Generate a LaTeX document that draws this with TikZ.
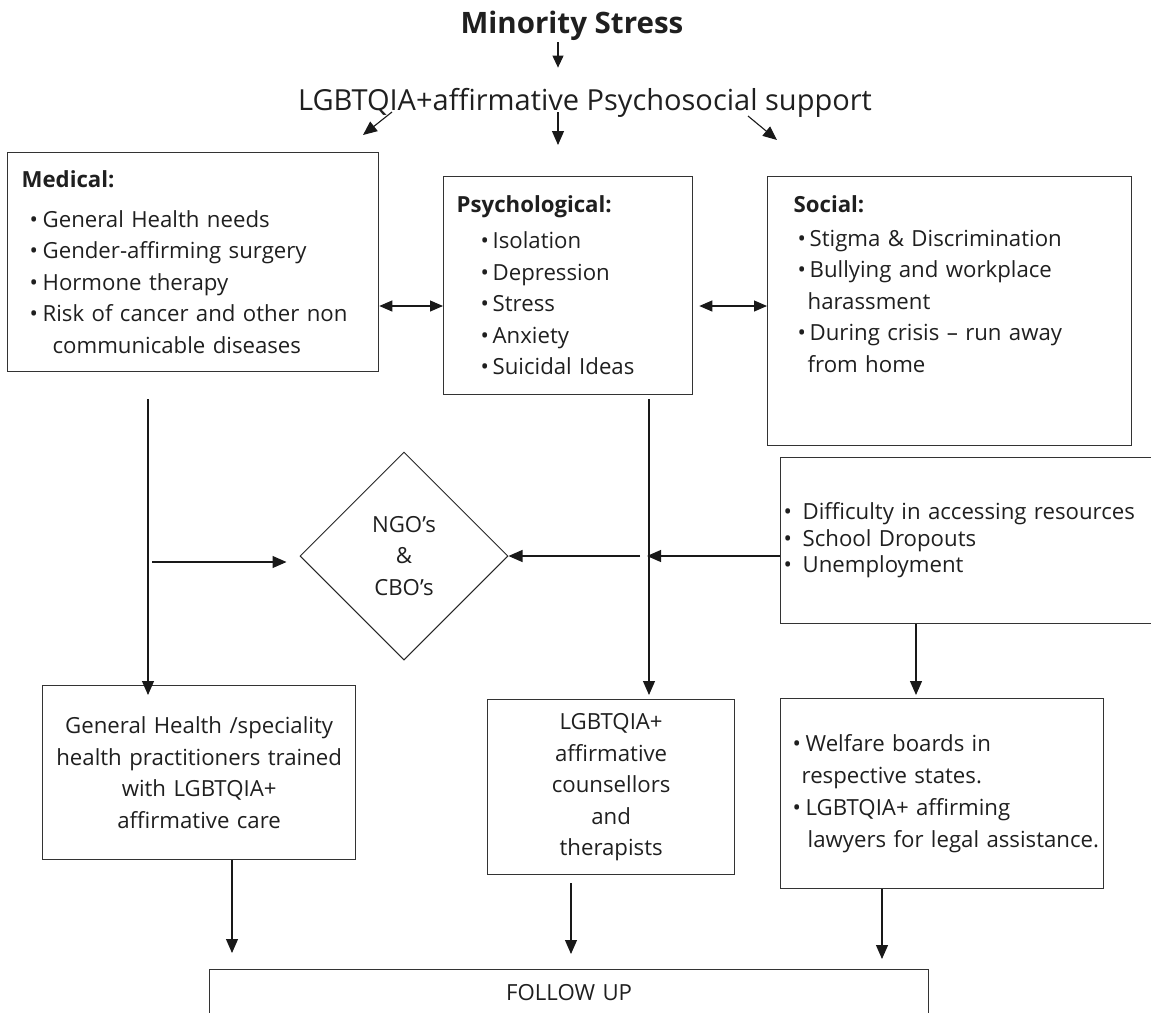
\documentclass[tikz,border=0pt]{standalone}
\usepackage{fontspec}
\setmainfont{Open Sans}
\usetikzlibrary{arrows.meta,positioning,shapes.geometric}

\newcommand{\bul}[1][13pt]{\makebox[#1][l]{•}}

\tikzset{
  box/.style={draw=black!80, line width=1.3pt, anchor=north west, inner ysep=0pt, inner xsep=3pt,
    align=left, font=\fontsize{22.2}{31.5}\selectfont},
  cbox/.style={box, inner xsep=8pt, align=center},
  arr/.style={-{Triangle[length=14pt,width=12pt]}, line width=1.1pt, draw=black!90},
  dbl/.style={{Triangle[length=13pt,width=11pt]}-{Triangle[length=13pt,width=11pt]}, line width=1.1pt, draw=black!90},
}

\begin{document}
\begin{tikzpicture}[x=1pt, y=-1pt, every node/.append style={text=black!88}]
	\useasboundingbox (0,0) rectangle (1151,1012);
	\clip (0,0) rectangle (1151,1012);

	% headings
	\node (title) [anchor=base, inner sep=0pt, font=\bfseries\fontsize{29.5}{33}\selectfont] at (572,33) {Minority Stress};
	\node (sub) [anchor=base, inner sep=0pt, font=\fontsize{29}{34}\selectfont] at (585,110) {LGBTQIA+affirmative Psychosocial support};

	% first row
	\node (med) [box, text width=365pt, minimum height=219pt] at (7,152)
		{\hspace*{11pt}\textbf{Medical:}\\[8.5pt]
		 \hspace*{19pt}\bul General Health needs\\
		 \hspace*{19pt}\bul Gender-affirming surgery\\
		 \hspace*{19pt}\bul Hormone therapy\\
		 \hspace*{19pt}\bul Risk of cancer and other non\\
		 \hspace*{42pt}communicable diseases};
	\node (psy) [box, text width=243pt, minimum height=218pt] at (443,176)
		{\hspace*{10pt}\textbf{Psychological:}\\[4.5pt]
		 \hspace*{34pt}\bul[12pt]Isolation\\
		 \hspace*{34pt}\bul[12pt]Depression\\
		 \hspace*{34pt}\bul[12pt]Stress\\
		 \hspace*{34pt}\bul[12pt]Anxiety\\
		 \hspace*{34pt}\bul[12pt]Suicidal Ideas};
	\node (soc) [box, text width=358pt, minimum height=269pt] at (767,176)
		{\hspace*{23pt}\textbf{Social:}\\[2.5pt]
		 \hspace*{27pt}\bul[12pt]Stigma \& Discrimination\\
		 \hspace*{27pt}\bul[12pt]Bullying and workplace\\
		 \hspace*{37pt}harassment\\
		 \hspace*{27pt}\bul[12pt]During crisis – run away\\
		 \hspace*{37pt}from home\\
		 \rule{0pt}{53pt}};

	% middle row
	\node (ngo) [diamond, draw=black!85, line width=1pt, minimum size=208pt, inner sep=0pt, align=center,
		font=\fontsize{22.2}{31.5}\selectfont] at (404,556) {NGO’s\\\&\\CBO’s};
	\node (diff) [box, text width=394pt, minimum height=166pt, font=\fontsize{22.2}{26.5}\selectfont] at (780,457)
		{\bul[19pt]Difficulty in accessing resources\\
		 \bul[19pt]School Dropouts\\
		 \bul[19pt]Unemployment};

	% lower row
	\node (gen) [cbox, text width=297pt, minimum height=174pt] at (42,685)
		{General Health /speciality\\health practitioners trained\\with LGBTQIA+\\affirmative care};
	\node (cou) [cbox, text width=231pt, minimum height=175pt] at (487,699)
		{LGBTQIA+\\affirmative\\counsellors\\and\\therapists};
	\node (wel) [box, text width=317pt, minimum height=190pt, font=\fontsize{22.2}{32}\selectfont] at (780,698)
		{\hspace*{9pt}\bul Welfare boards in\\
		 \hspace*{18pt}respective states.\\
		 \hspace*{9pt}\bul LGBTQIA+ affirming\\
		 \hspace*{24pt}lawyers for legal assistance.};
	\node (fu) [cbox, inner xsep=0pt, text width=719pt, text height=30.5pt, text depth=60pt] at (209,969) {FOLLOW UP};

	% free ends
	\coordinate (s1) at (392,112);
	\coordinate (e1) at (363,135);
	\coordinate (s2) at (558,112);
	\coordinate (e2) at (558,145);
	\coordinate (s3) at (748,116);
	\coordinate (e3) at (777,140);
	\coordinate (medline) at (148,399);
	\coordinate (psyline) at (649,399);
	\coordinate (hl) at (152,562);

	\draw[arr, -{Triangle[length=12pt,width=11pt]}, shorten <=2pt, shorten >=20pt] ([xshift=-14pt]title.south) -- ([xshift=-14pt]title.south |- sub.north);
	\draw[arr] (s1) -- (e1);
	\draw[arr] (s2) -- (e2);
	\draw[arr] (s3) -- (e3);

	\draw[dbl] (med.east |- 0,306) -- (psy.west |- 0,306);
	\draw[dbl, shorten <=6pt] (psy.east |- 0,306) -- (soc.west |- 0,306);

	\draw[arr, shorten >=-10pt] (medline) -- (medline |- gen.north);
	\draw[arr, shorten >=4pt] (psyline) -- (psyline |- cou.north);
	\draw[arr, shorten >=13pt] (hl) -- (ngo.west |- hl);
	\draw[arr, shorten <=9pt] (psyline |- ngo.east) -- (ngo.east);
	\draw[arr, shorten >=-2pt] (diff.west |- ngo.east) -- (psyline |- ngo.east);
	\draw[arr, shorten >=3pt] ([xshift=136pt]diff.south west) -- ([xshift=136pt]diff.south west |- wel.north);

	\draw[arr, shorten >=16pt] ([xshift=190pt]gen.south west) -- ([xshift=190pt]gen.south west |- fu.north);
	\draw[arr, shorten <=8pt, shorten >=15pt] ([xshift=84pt]cou.south west) -- ([xshift=84pt]cou.south west |- fu.north);
	\draw[arr, shorten >=10pt] ([xshift=102pt]wel.south west) -- ([xshift=102pt]wel.south west |- fu.north);
\end{tikzpicture}
\end{document}
